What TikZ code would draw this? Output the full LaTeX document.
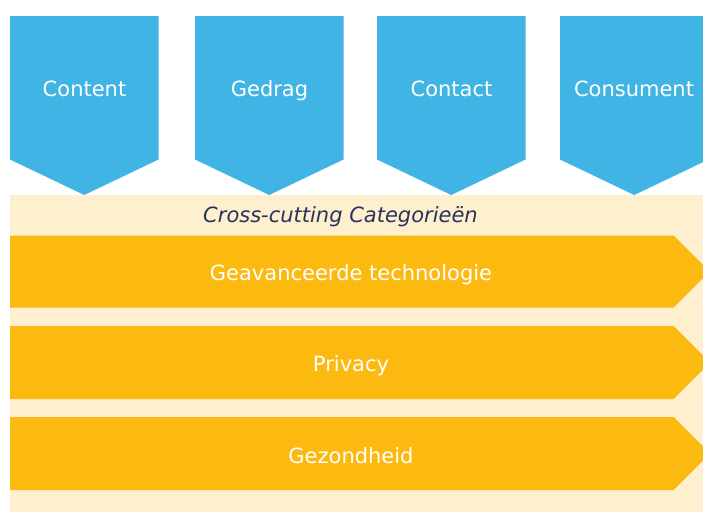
\documentclass[tikz,border=0pt]{standalone}
\usepackage{fontspec}
\setmainfont{DejaVu Sans}
\definecolor{cblue}{RGB}{65,180,230}
\definecolor{corange}{RGB}{252,185,15}
\definecolor{clight}{RGB}{254,240,206}
\definecolor{cnavy}{RGB}{40,52,92}
\tikzset{
  pillar/.style={fill=cblue},
  band/.style={fill=corange},
  whitelabel/.style={text=white,font=\fontsize{21}{25}\selectfont,inner sep=0pt,anchor=base},
  catlabel/.style={text=cnavy,font=\fontsize{21}{25}\selectfont\itshape,inner sep=0pt,anchor=base}
}
\begin{document}
\begin{tikzpicture}[x=1pt,y=-1pt]
\useasboundingbox (0,0) rectangle (703,512);
\clip (0,0) rectangle (703,512);
\fill[white] (0,0) rectangle (703,512);
\fill[clight] (10,195) rectangle (710,512);
% pillars
\foreach \l/\name in {10/p1,195/p2,377/p3,560/p4}{
  \fill[pillar] (\l,16) -- (\l+148.5,16) -- (\l+148.5,159.5) -- (\l+74.25,195) -- (\l,159.5) -- cycle;
}
\node[whitelabel] (content) at (84.5,96.7) {Content};
\node[whitelabel] (gedrag) at (269.5,96.7) {Gedrag};
\node[whitelabel] (contact) at (451.5,96.7) {Contact};
\node[whitelabel] (consument) at (634,96.7) {Consument};
% cross cutting
\node[catlabel] (cat) at (340.5,222.7) {Cross-cutting Categorieën};
\foreach \t/\b in {235.5/307.5,326/399,417/490}{
  \fill[band] (10,\t) -- (673.5,\t) -- (673.5+0.5*\b-0.5*\t,0.5*\t+0.5*\b) -- (673.5,\b) -- (10,\b) -- cycle;
}
\node[whitelabel] (tech) at (351,280) {Geavanceerde technologie};
\node[whitelabel] (privacy) at (351,371) {Privacy};
\node[whitelabel] (gezond) at (351,463) {Gezondheid};
\end{tikzpicture}
\end{document}
